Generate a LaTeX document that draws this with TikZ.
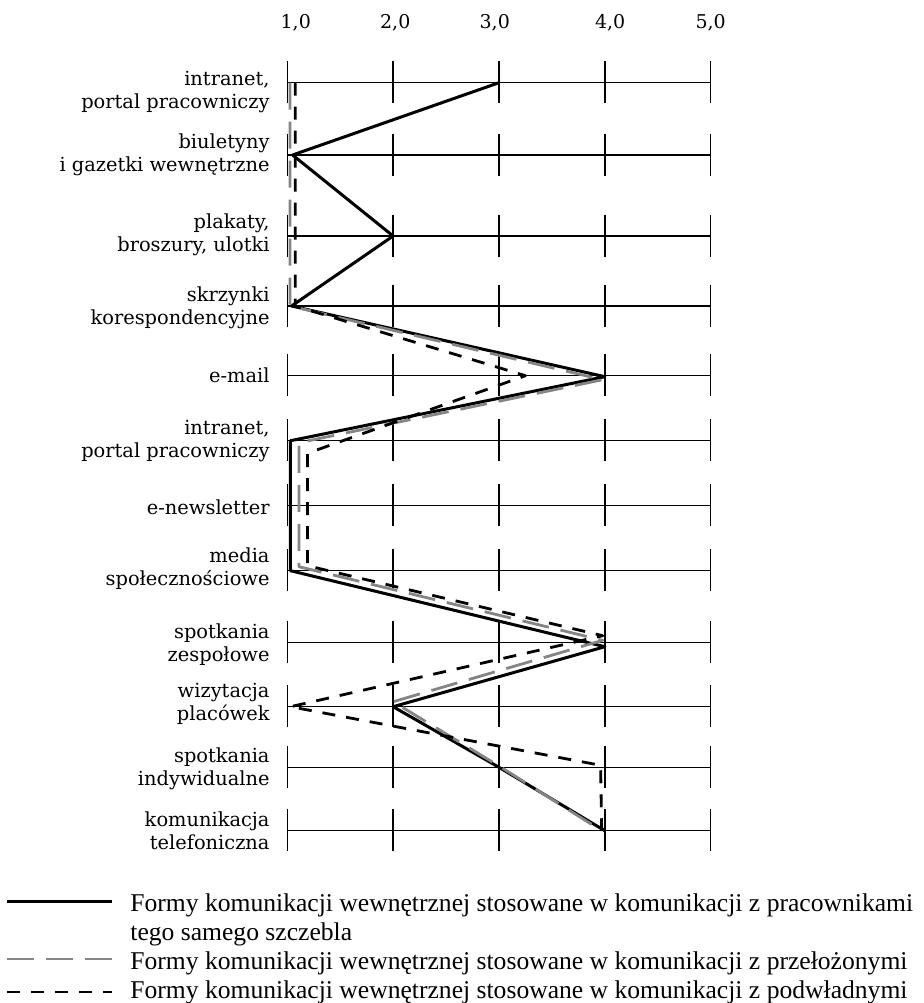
\documentclass[tikz,border=0pt]{standalone}
\usepackage{fontspec}
\newfontfamily\legendfont{Liberation Serif}
\newfontfamily\labelfont{DejaVu Serif}
\begin{document}
\begin{tikzpicture}[x=52.925pt, y=-0.5pt,
    rowline/.style={line width=0.75pt},
    peerline/.style={line width=1.5pt, line join=round},
    bossline/.style={line width=1.4pt, black!48, dash pattern=on 13.5pt off 6pt, line join=round},
    staffline/.style={line width=1.4pt, dash pattern=on 6.5pt off 5.5pt, line join=round},
    rowlabel/.style={anchor=east, align=right, inner sep=0pt, font=\labelfont\fontsize{9.7}{11.5}\selectfont},
    ticklabel/.style={anchor=base, inner sep=0pt, font=\labelfont\fontsize{9.5}{11.4}\selectfont},
    legendtext/.style={anchor=base west, inner sep=0pt, font=\legendfont\fontsize{12.8}{14.5}\selectfont}]

            \useasboundingbox (-1.7142,0) rectangle (7.0151,1003);

            \node[ticklabel] (t1) at (1.08, 28.5) {1,0};
            \node[ticklabel] (t2) at (2.02, 28.5) {2,0};
            \node[ticklabel] (t3) at (2.96, 28.5) {3,0};
            \node[ticklabel] (t4) at (4.05, 28.5) {4,0};
            \node[ticklabel] (t5) at (5.00, 28.5) {5,0};

            \foreach \y in {82.7,155,236,306,375.7,440.7,505.7,570.7,642.3,706.7,767.3,830.7} {
                \draw[rowline] (1,\y) -- (5,\y);
                \foreach \x in {1,...,5}
                    \draw[rowline] (\x,\y-21.5) -- (\x,\y+20.5);
            }

            \node[rowlabel] (r1) at (0.836, 92) {intranet,\\portal pracowniczy};
            \node[rowlabel] (r2) at (0.836, 155) {biuletyny\\i gazetki wewnętrzne};
            \node[rowlabel] (r3) at (0.836, 235) {plakaty,\\broszury, ulotki};
            \node[rowlabel] (r4) at (0.836, 308) {skrzynki\\korespondencyjne};
            \node[rowlabel] (r5) at (0.836, 375.7) {e-mail};
            \node[rowlabel] (r6) at (0.836, 441) {intranet,\\portal pracowniczy};
            \node[rowlabel] (r7) at (0.836, 507) {e-newsletter};
            \node[rowlabel] (r8) at (0.836, 569) {media\\społecznościowe};
            \node[rowlabel] (r9) at (0.836, 645) {spotkania\\zespołowe};
            \node[rowlabel] (r10) at (0.836, 704) {wizytacja\\placówek};
            \node[rowlabel] (r11) at (0.836, 769) {spotkania\\indywidualne};
            \node[rowlabel] (r12) at (0.836, 831) {komunikacja\\telefoniczna};

            \draw[peerline] (3,82.7) -- (1.05,155) -- (2,236) -- (1.04,306) -- (4,376.7)
                -- (1.03,440.7) -- (1.03,505.7) -- (1.03,570.7) -- (4,646.7) -- (2,706.7)
                -- (3,767.3) -- (4,830.7);
            \draw[bossline] (1.025,82.7) -- (1.025,306) -- (3.98,379.7) -- (1.11,442.7)
                -- (1.11,566.7) -- (3.98,640.3) -- (2,701.7) -- (3.02,767.3) -- (3.97,830.7);
            \draw[staffline] (1.075,82.7) -- (1.075,306) -- (3.25,375.7) -- (1.19,453.3)
                -- (1.19,565.7) -- (3.98,635.7) -- (1.03,706.7) -- (3.96,765.3) -- (3.97,830.7);

            \coordinate (k1a) at (-1.648, 901.7);
            \coordinate (k1b) at (-0.656, 901.7);
            \coordinate (k2a) at (-1.648, 959);
            \coordinate (k2b) at (-0.656, 959);
            \coordinate (k3a) at (-1.648, 992);
            \coordinate (k3b) at (-0.656, 992);
            \draw[peerline] (k1a) -- (k1b);
            \draw[bossline] (k2a) -- (k2b);
            \draw[staffline] (k3a) -- (k3b);

            \node[legendtext] (l1) at (-0.486, 911) {Formy komunikacji wewnętrznej stosowane w komunikacji z pracownikami};
            \node[legendtext] (l1b) at (-0.486, 940) {tego samego szczebla};
            \node[legendtext] (l2) at (-0.486, 969) {Formy komunikacji wewnętrznej stosowane w komunikacji z przełożonymi};
            \node[legendtext] (l3) at (-0.486, 998) {Formy komunikacji wewnętrznej stosowane w komunikacji z podwładnymi};
      \end{tikzpicture}
\end{document}
